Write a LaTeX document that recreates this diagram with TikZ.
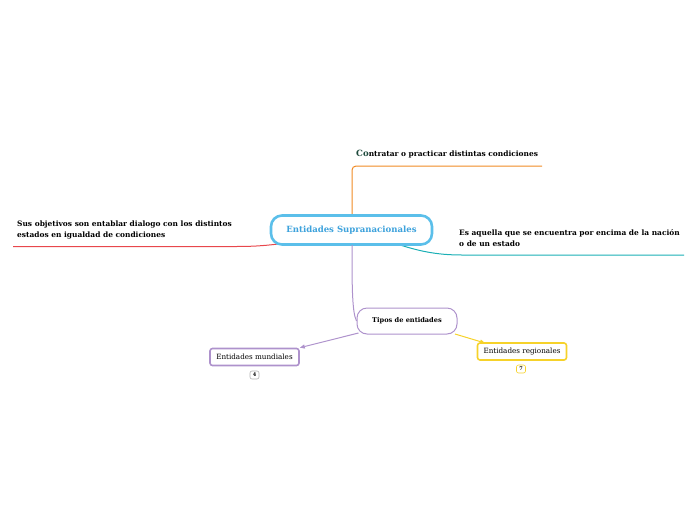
\documentclass[tikz,border=0pt]{standalone}
\usepackage{fontspec}
\setmainfont{DejaVu Serif}
\usetikzlibrary{arrows.meta}
\definecolor{cblue}{HTML}{5BBFEA}
\definecolor{cbluetext}{HTML}{3DA2DC}
\definecolor{corange}{HTML}{F08A24}
\definecolor{cred}{HTML}{E8474C}
\definecolor{cteal}{HTML}{1AAFB5}
\definecolor{cpurple}{HTML}{AE92CC}
\definecolor{cyellow}{HTML}{F6D22A}
\definecolor{cdark}{HTML}{1E4A3C}
\tikzset{
  lbl/.style={font=\fontsize{7.45}{11}\selectfont\bfseries, anchor=west, align=left, inner sep=0pt},
  sub/.style={draw=#1, line width=1.6pt, rounded corners=2.5pt, fill=white, font=\fontsize{7.2}{9}\selectfont, minimum height=17pt, inner xsep=6pt},
  badge/.style={draw=#1, line width=0.6pt, rounded corners=2pt, fill=white, font=\fontsize{5}{6}\selectfont\bfseries, minimum width=9pt, minimum height=8pt, inner sep=0pt},
  conn/.style={line width=1pt, draw=#1},
}
\begin{document}
\begin{tikzpicture}[x=1pt,y=-1pt]
\useasboundingbox (0,0) rectangle (696,520);
% connectors
\coordinate (otop) at (352,216);
\coordinate (oend) at (542,166);
\draw[conn=corange, rounded corners=4pt] (otop) -- (352,166) -- (oend);
\coordinate (rstart) at (278,244);
\coordinate (rend) at (13,246.5);
\draw[conn=cred] (rstart) .. controls (262,246) and (250,246.5) .. (236,246.5) -- (rend);
\coordinate (tstart) at (394,243);
\coordinate (tend) at (684,255);
\draw[conn=cteal] (tstart) .. controls (418,251) and (436,255) .. (462,255) -- (tend);
\coordinate (pstart) at (352,245);
% nodes
\node[draw=cblue, line width=2.6pt, rounded corners=11pt, fill=white, minimum width=161pt, minimum height=29pt, font=\fontsize{8.55}{12}\selectfont\bfseries, text=cbluetext] (cent) at (351.5,230) {Entidades Supranacionales};
\node[draw=cpurple, line width=1pt, rounded corners=10pt, fill=white, minimum width=100pt, minimum height=26pt, font=\fontsize{6.6}{9}\selectfont\bfseries] (tipos) at (407,321) {Tipos de entidades};
\draw[conn=cpurple] (pstart) .. controls (352,285) and (352,312) .. (tipos.west);
\node[sub=cpurple, minimum width=89pt] (mund) at (254.5,357) {Entidades mundiales};
\node[sub=cyellow, minimum width=88pt] (reg) at (522,351.5) {Entidades regionales};
\node[badge=gray!60] (b4) at (254.5,375) {4};
\node[badge=cyellow] (b7) at (521,369) {7};
\draw[conn=cpurple, -{Triangle[length=5pt,width=4pt]}] (358.5,333) -- (mund.north east);
\draw[conn=cyellow, -{Triangle[length=5pt,width=4pt]}] (455,334) -- (485,343);
% labels
\node[lbl] (tco) at (356,154.5) {{\color{cdark}\fontsize{8.6}{10}\selectfont Co}ntratar o practicar distintas condiciones};
\node[lbl] (tsus) at (17,230) {Sus objetivos son entablar dialogo con los distintos\\estados en igualdad de condiciones};
\node[lbl] (tes) at (459,238) {Es aquella que se encuentra por encima de la nación\\o de un estado};
\end{tikzpicture}
\end{document}
